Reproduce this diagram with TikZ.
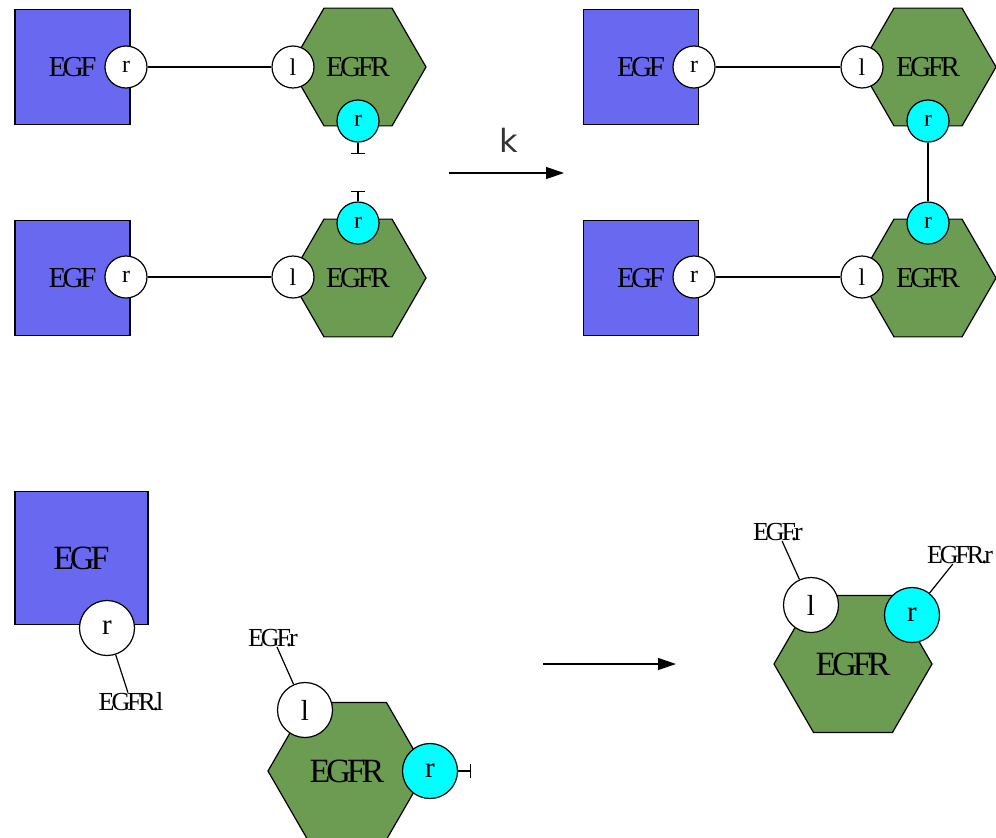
\documentclass[tikz,border=0pt]{standalone}
\usepackage{fontspec}
\setmainfont{Liberation Serif}[LetterSpace=-12]
\newfontfamily\ksans{DejaVu Sans}
\usetikzlibrary{shapes.geometric,arrows.meta}
\definecolor{egfblue}{HTML}{6868F0}
\definecolor{egfrgreen}{HTML}{6C9C52}
\definecolor{freesite}{HTML}{00FFFF}

\begin{document}
\begin{tikzpicture}[x=1pt,y=-1pt]
				\tikzset{every node/.style={align=center, inner sep=0pt},
					agent/.style={draw, line width=1.2pt, fill=egfblue, minimum size=115pt, font=\fontsize{29}{29}\selectfont},
					bigagent/.style={agent, minimum size=133pt, font=\fontsize{34}{34}\selectfont},
					receptor/.style={draw, line width=1.2pt, fill=egfrgreen, regular polygon, regular polygon sides=6, minimum size=136pt, font=\fontsize{29}{29}\selectfont},
					bigreceptor/.style={receptor, minimum size=158pt, font=\fontsize{34}{34}\selectfont},
					site/.style={draw, line width=1.2pt, circle, fill=white, minimum size=42pt, font=\fontsize{24}{24}\selectfont},
					bigsite/.style={site, minimum size=55pt, font=\fontsize{29}{29}\selectfont},
					free/.style={fill=freesite},
					link/.style={line width=2.6pt},
					tag/.style={font=\fontsize{26}{26}\selectfont},
					react/.style={line width=1.2pt, -{Triangle[length=18pt, width=12pt]}},
					unbound/.style={line width=1.2pt, -{Bar[width=14pt, line width=1.2pt]}}}
				\useasboundingbox (0,0) rectangle (996,838);

				% left side of the rule
				\node[agent] (EGFa) at (72.5,67) {EGF};
				\node[receptor] (EGFRa) at (358,67) {EGFR};
				\node[site] (ra) at (126,67) {r};
				\node[site] (la) at (293,67) {l};
				\node[site, free] (fa) at (358,121) {r};
				\node[agent] (EGFb) at (72.5,278) {EGF};
				\node[receptor] (EGFRb) at (358,278) {EGFR};
				\node[site] (rb) at (126,277) {r};
				\node[site] (lb) at (293,277) {l};
				\node[site, free] (fb) at (358,223) {r};
				\coordinate (ta) at (358,154);
				\coordinate (tb) at (358,191);

				\draw[link] (ra) to (la);
				\draw[link] (rb) to (lb);
				\draw[unbound] (fa) to (ta);
				\draw[unbound] (fb) to (tb);

				% rule arrow
				\node[font=\ksans\fontsize{32}{32}\selectfont, text=black!80] (k) at (509,140) {k};
				\coordinate (ka) at (449,173);
				\coordinate (kb) at (564,173);
				\draw[react] (ka) to (kb);

				% right side of the rule
				\node[agent] (EGFc) at (641,67) {EGF};
				\node[receptor] (EGFRc) at (928,67) {EGFR};
				\node[site] (rc) at (694,67) {r};
				\node[site] (lc) at (862,67) {l};
				\node[site, free] (fc) at (928,121) {r};
				\node[agent] (EGFd) at (641,278) {EGF};
				\node[receptor] (EGFRd) at (928,278) {EGFR};
				\node[site] (rd) at (694,277) {r};
				\node[site] (ld) at (862,277) {l};
				\node[site, free] (fd) at (928,223) {r};

				\draw[link] (rc) to (lc);
				\draw[link] (rd) to (ld);
				\draw[link] (fc) to (fd);

				% contact map
				\node[bigagent] (EGFe) at (81.5,558) {EGF};
				\node[bigsite] (re) at (107,628) {r};
				\node[tag] (te) at (131,702) {EGFR.l};
				\draw[line width=1.2pt] (re) to (te);

				\node[bigreceptor] (EGFRf) at (347,771) {EGFR};
				\node[bigsite] (lf) at (305,710) {l};
				\node[bigsite, free] (ff) at (430,771) {r};
				\node[tag] (tf) at (273,638) {EGF.r};
				\coordinate (uf) at (471,771);
				\draw[line width=1.2pt] (lf) to (tf);
				\draw[unbound] (ff) to (uf);

				\coordinate (ma) at (543,664);
				\coordinate (mb) at (676,664);
				\draw[react] (ma) to (mb);

				\node[bigreceptor] (EGFRg) at (853,664) {EGFR};
				\node[bigsite] (lg) at (811,605) {l};
				\node[bigsite, free] (fg) at (912,615) {r};
				\node[tag] (tg) at (778,532) {EGF.r};
				\node[tag] (th) at (960,555) {EGFR.r};
				\draw[line width=1.2pt] (lg) to (tg);
				\draw[line width=1.2pt] (fg) to (th);

			\end{tikzpicture}
\end{document}
